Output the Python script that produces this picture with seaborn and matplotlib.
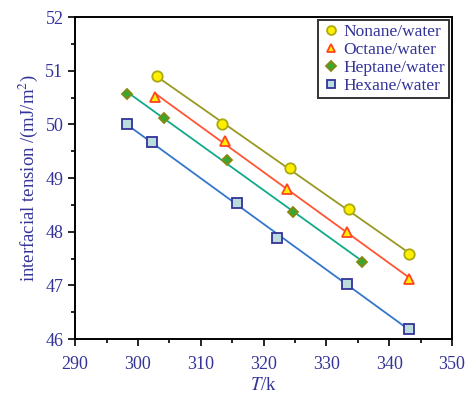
import numpy as np
import pandas as pd
import matplotlib
matplotlib.use("Agg")
import matplotlib.pyplot as plt
from matplotlib.ticker import MultipleLocator
import seaborn as sns

# Data
nonane_T = [303.0, 313.3, 324.2, 333.6, 343.1]
nonane_y = [50.91, 50.00, 49.18, 48.43, 47.58]
octane_T = [302.7, 313.9, 323.8, 333.2, 343.1]
octane_y = [50.52, 49.70, 48.80, 48.00, 47.12]
heptane_T = [298.2, 304.2, 314.2, 324.6, 335.6]
heptane_y = [50.56, 50.12, 49.34, 48.37, 47.44]
hexane_T = [298.2, 302.2, 315.7, 322.2, 333.2, 343.2]
hexane_y = [50.01, 49.67, 48.53, 47.89, 47.03, 46.19]

series = [
    ("Nonane/water", nonane_T, nonane_y, "#999922", "o", "#ffee00", "#aaaa11", 7.5),
    ("Octane/water", octane_T, octane_y, "#ff5533", "^", "#ffee00", "#ff4422", 7.5),
    ("Heptane/water", heptane_T, heptane_y, "#11aa88", "D", "#33aa33", "#888811", 5.5),
    ("Hexane/water", hexane_T, hexane_y, "#3377cc", "s", "#bbdddd", "#333399", 7.0),
]

sns.set_style("white")
plt.rcParams["font.family"] = ["Liberation Serif", "DejaVu Serif"]
plt.rcParams["mathtext.fontset"] = "stix"
txt = "#333399"

fig, ax = plt.subplots(figsize=(4.67, 3.98), dpi=100)
fig.subplots_adjust(left=0.161, right=0.968, top=0.957, bottom=0.148)

for name, T, y, lc, m, fc, ec, ms in series:
    df = pd.DataFrame({"T": T, "y": y})
    sns.regplot(data=df, x="T", y="y", ax=ax, scatter=False, ci=None, truncate=True,
                line_kws={"color": lc, "lw": 1.3})
    ax.plot(df["T"], df["y"], ls="none", marker=m, ms=ms, mfc=fc, mec=ec, mew=1.3,
            label=name)

ax.set_xlim(290, 350)
ax.set_ylim(46, 52)
ax.xaxis.set_major_locator(MultipleLocator(10))
ax.xaxis.set_minor_locator(MultipleLocator(5))
ax.yaxis.set_major_locator(MultipleLocator(1))
ax.yaxis.set_minor_locator(MultipleLocator(0.5))
ax.tick_params(which="both", direction="out", bottom=True, left=True, top=False,
               right=False, colors="black", labelcolor=txt, width=1.2)
ax.tick_params(which="major", length=5, labelsize=13)
ax.tick_params(axis="x", which="major", pad=7)
ax.tick_params(which="minor", length=3)
for s in ax.spines.values():
    s.set_color("black")
    s.set_linewidth(1.4)

ax.set_xlabel("$T$/k", color=txt, fontsize=13.5, labelpad=3)
ax.set_ylabel("interfacial tension /(mJ/m$^2$)", color=txt, fontsize=13.5, labelpad=4)

leg = ax.legend(loc="upper right", borderaxespad=0.15, fontsize=12.5, frameon=True,
                fancybox=False, edgecolor="black", handletextpad=0.2, markerscale=0.85,
                handlelength=1.0, labelspacing=0.1, borderpad=0.25)
leg.get_frame().set_linewidth(1.4)
for t in leg.get_texts():
    t.set_color(txt)

fig.savefig("out.png", dpi=100)
